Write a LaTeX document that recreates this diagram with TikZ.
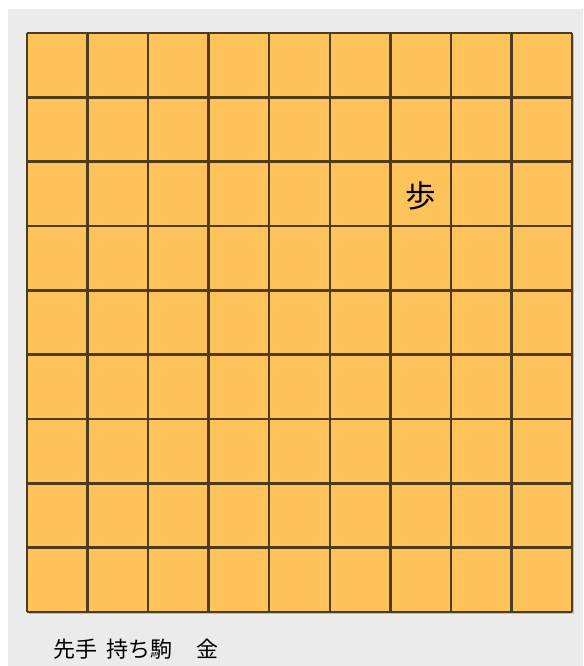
\documentclass[tikz,border=0pt]{standalone}
\usepackage{fontspec}
\newfontfamily\jpfont{Noto Sans CJK JP}
\usetikzlibrary{positioning}
\definecolor{bggray}{HTML}{EBEBEB}
\definecolor{boardfill}{HTML}{FFC35C}
\definecolor{gridline}{HTML}{4E3C1E}
\begin{document}
\begin{tikzpicture}[x=0.75pt,y=-0.75pt]
        \useasboundingbox (0,0) rectangle (583,666);
        \fill[white] (0,0) rectangle (583,666);
        \fill[bggray] (8,9) rectangle (583,666);
        % board with faint shadow
        \fill[black!25] (29,35) rectangle (574,614);
        \fill[boardfill] (27,33) rectangle (572,612);
        \foreach \i in {0,...,9} {
            \draw[gridline,line width=1.8pt] (27+60.56*\i,33) -- (27+60.56*\i,612);
            \draw[gridline,line width=1.8pt] (27,33+64.33*\i) -- (572,33+64.33*\i);
        }
        \node[font=\jpfont\fontsize{23pt}{25pt}\selectfont] (fu) at (421,196) {歩};
        \node[anchor=west,font=\jpfont\fontsize{16.5pt}{18pt}\selectfont,inner sep=0pt] (mochigoma) at (53,649) {先手\hspace{0.4em}持ち駒\hspace{1.1em}金};
    \end{tikzpicture}
\end{document}
